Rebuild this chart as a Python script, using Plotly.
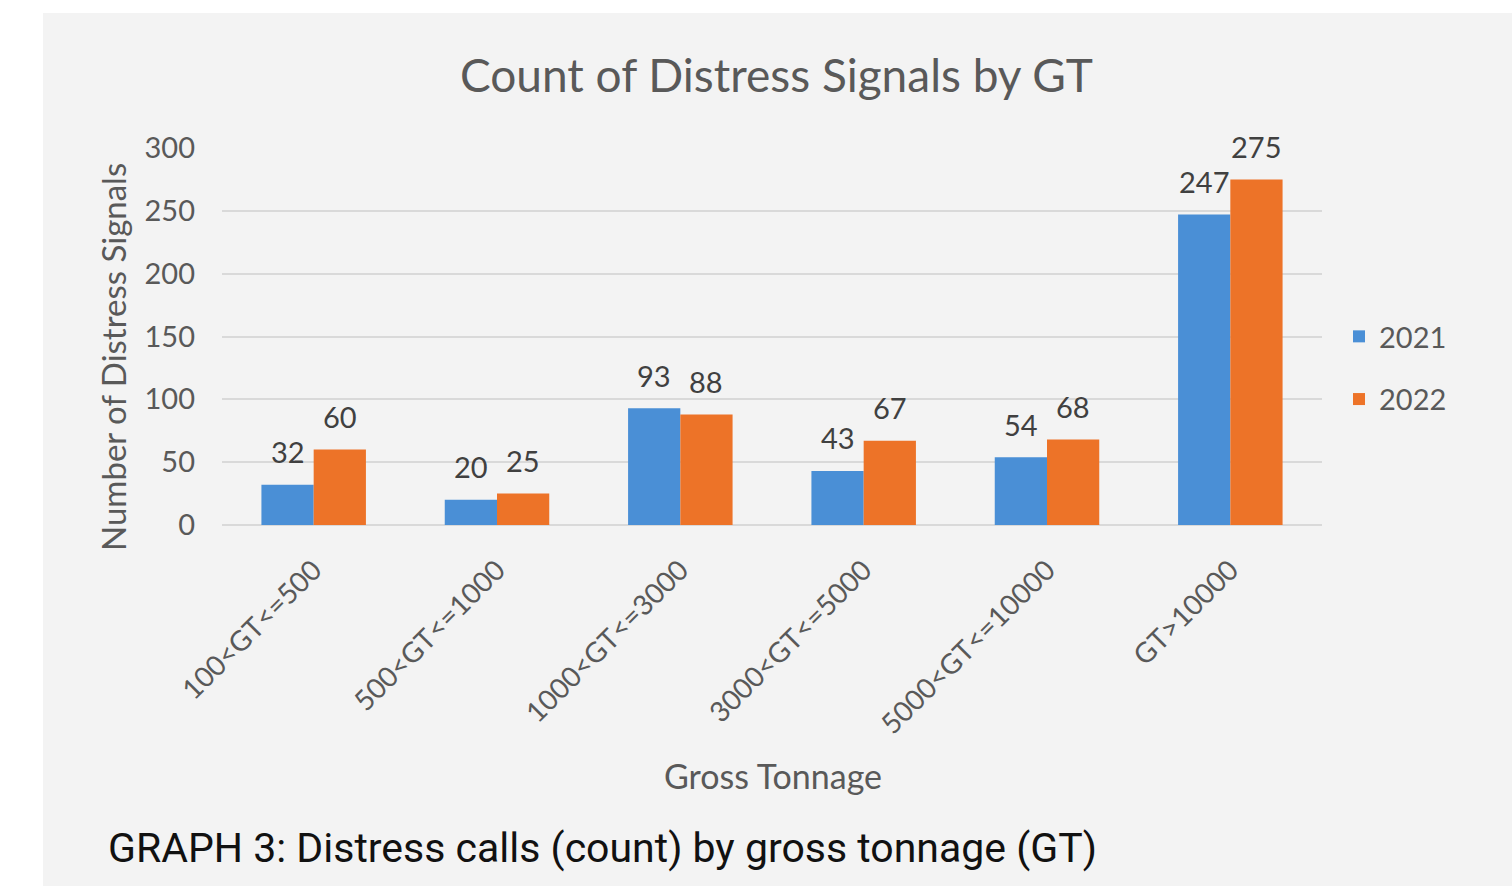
import plotly.graph_objects as go

categories = ["100<GT<=500", "500<GT<=1000", "1000<GT<=3000", "3000<GT<=5000", "5000<GT<=10000", "GT>10000"]
values_2021 = [32, 20, 93, 43, 54, 247]
values_2022 = [60, 25, 88, 67, 68, 275]
series_names = ["2021", "2022"]
colors = ["#4a8fd6", "#ed7328"]

W, H = 1512, 886
L, R, T, B = 222, 190, 148, 361
pw, ph = W - L - R, H - T - B
BARGAP = 0.43
bar_px = pw / len(categories) * (1 - BARGAP) / 2

def px_x(x):
    return (x - L) / pw

def px_y(y):
    return (H - B - y) / ph

FONT = "Lato"
text_col = "#595959"

fig = go.Figure()
for name, vals, col in zip(series_names, [values_2021, values_2022], colors):
    fig.add_trace(go.Bar(
        x=categories, y=vals, name=name, legendgroup=name,
        marker=dict(color=col, line=dict(width=0)),
    ))

annotations = []
for k, vals in enumerate([values_2021, values_2022]):
    shift = (k - 0.5) * bar_px
    for c, v in zip(categories, vals):
        annotations.append(dict(x=c, y=v, xref="x", yref="y", text=str(v), showarrow=False,
                                xshift=shift, yshift=33, xanchor="center", yanchor="middle",
                                font=dict(family=FONT, size=29, color="#404040")))

annotations += [
    dict(text="Count of Distress Signals by GT", xref="paper", yref="paper",
         x=px_x(776), y=px_y(75), xanchor="center", yanchor="middle", showarrow=False,
         font=dict(size=46, color=text_col, family=FONT)),
    dict(text="Number of Distress Signals", xref="paper", yref="paper", textangle=-90,
         x=px_x(113), y=px_y(357), xanchor="center", yanchor="middle", showarrow=False,
         font=dict(size=33, color=text_col, family=FONT)),
    dict(text="Gross Tonnage", xref="paper", yref="paper",
         x=px_x(773), y=px_y(775), xanchor="center", yanchor="middle", showarrow=False,
         font=dict(size=34, color=text_col, family=FONT)),
    dict(text="GRAPH 3: Distress calls (count) by gross tonnage (GT)", xref="paper", yref="paper",
         x=px_x(106), y=px_y(848), xanchor="left", yanchor="middle", showarrow=False,
         font=dict(size=41, color="#111111", family="Roboto")),
]

fig.update_layout(
    width=W, height=H,
    margin=dict(l=L, r=R, t=T, b=B, pad=0),
    paper_bgcolor="white", plot_bgcolor="#f3f3f3",
    barmode="group", bargap=BARGAP, bargroupgap=0,
    font=dict(family=FONT, color=text_col),
    showlegend=True,
    legend=dict(x=px_x(1339), y=px_y(311), xanchor="left", yanchor="top",
                font=dict(size=29, color=text_col, family=FONT), bgcolor="rgba(0,0,0,0)",
                traceorder="grouped", tracegroupgap=22, itemwidth=30),
    xaxis=dict(tickangle=-45, tickfont=dict(size=28, color=text_col, family=FONT),
               showgrid=False, showline=False, ticks="", ticklabelstandoff=22),
    yaxis=dict(range=[0, 300], dtick=50, tickfont=dict(size=29, color=text_col, family=FONT),
               gridcolor="#d9d9d9", gridwidth=1.5, zeroline=True, zerolinecolor="#d9d9d9",
               zerolinewidth=1.5, showline=False, ticks="", ticklabelstandoff=26),
    shapes=[dict(type="rect", xref="paper", yref="paper", layer="below",
                 x0=px_x(43), x1=px_x(W + 5), y0=px_y(H + 5), y1=px_y(13),
                 fillcolor="#f3f3f3", line=dict(width=0))],
    annotations=annotations,
)
fig.write_html("out.html", post_script="document.body.style.margin='0';",
               config={"displayModeBar": False})
